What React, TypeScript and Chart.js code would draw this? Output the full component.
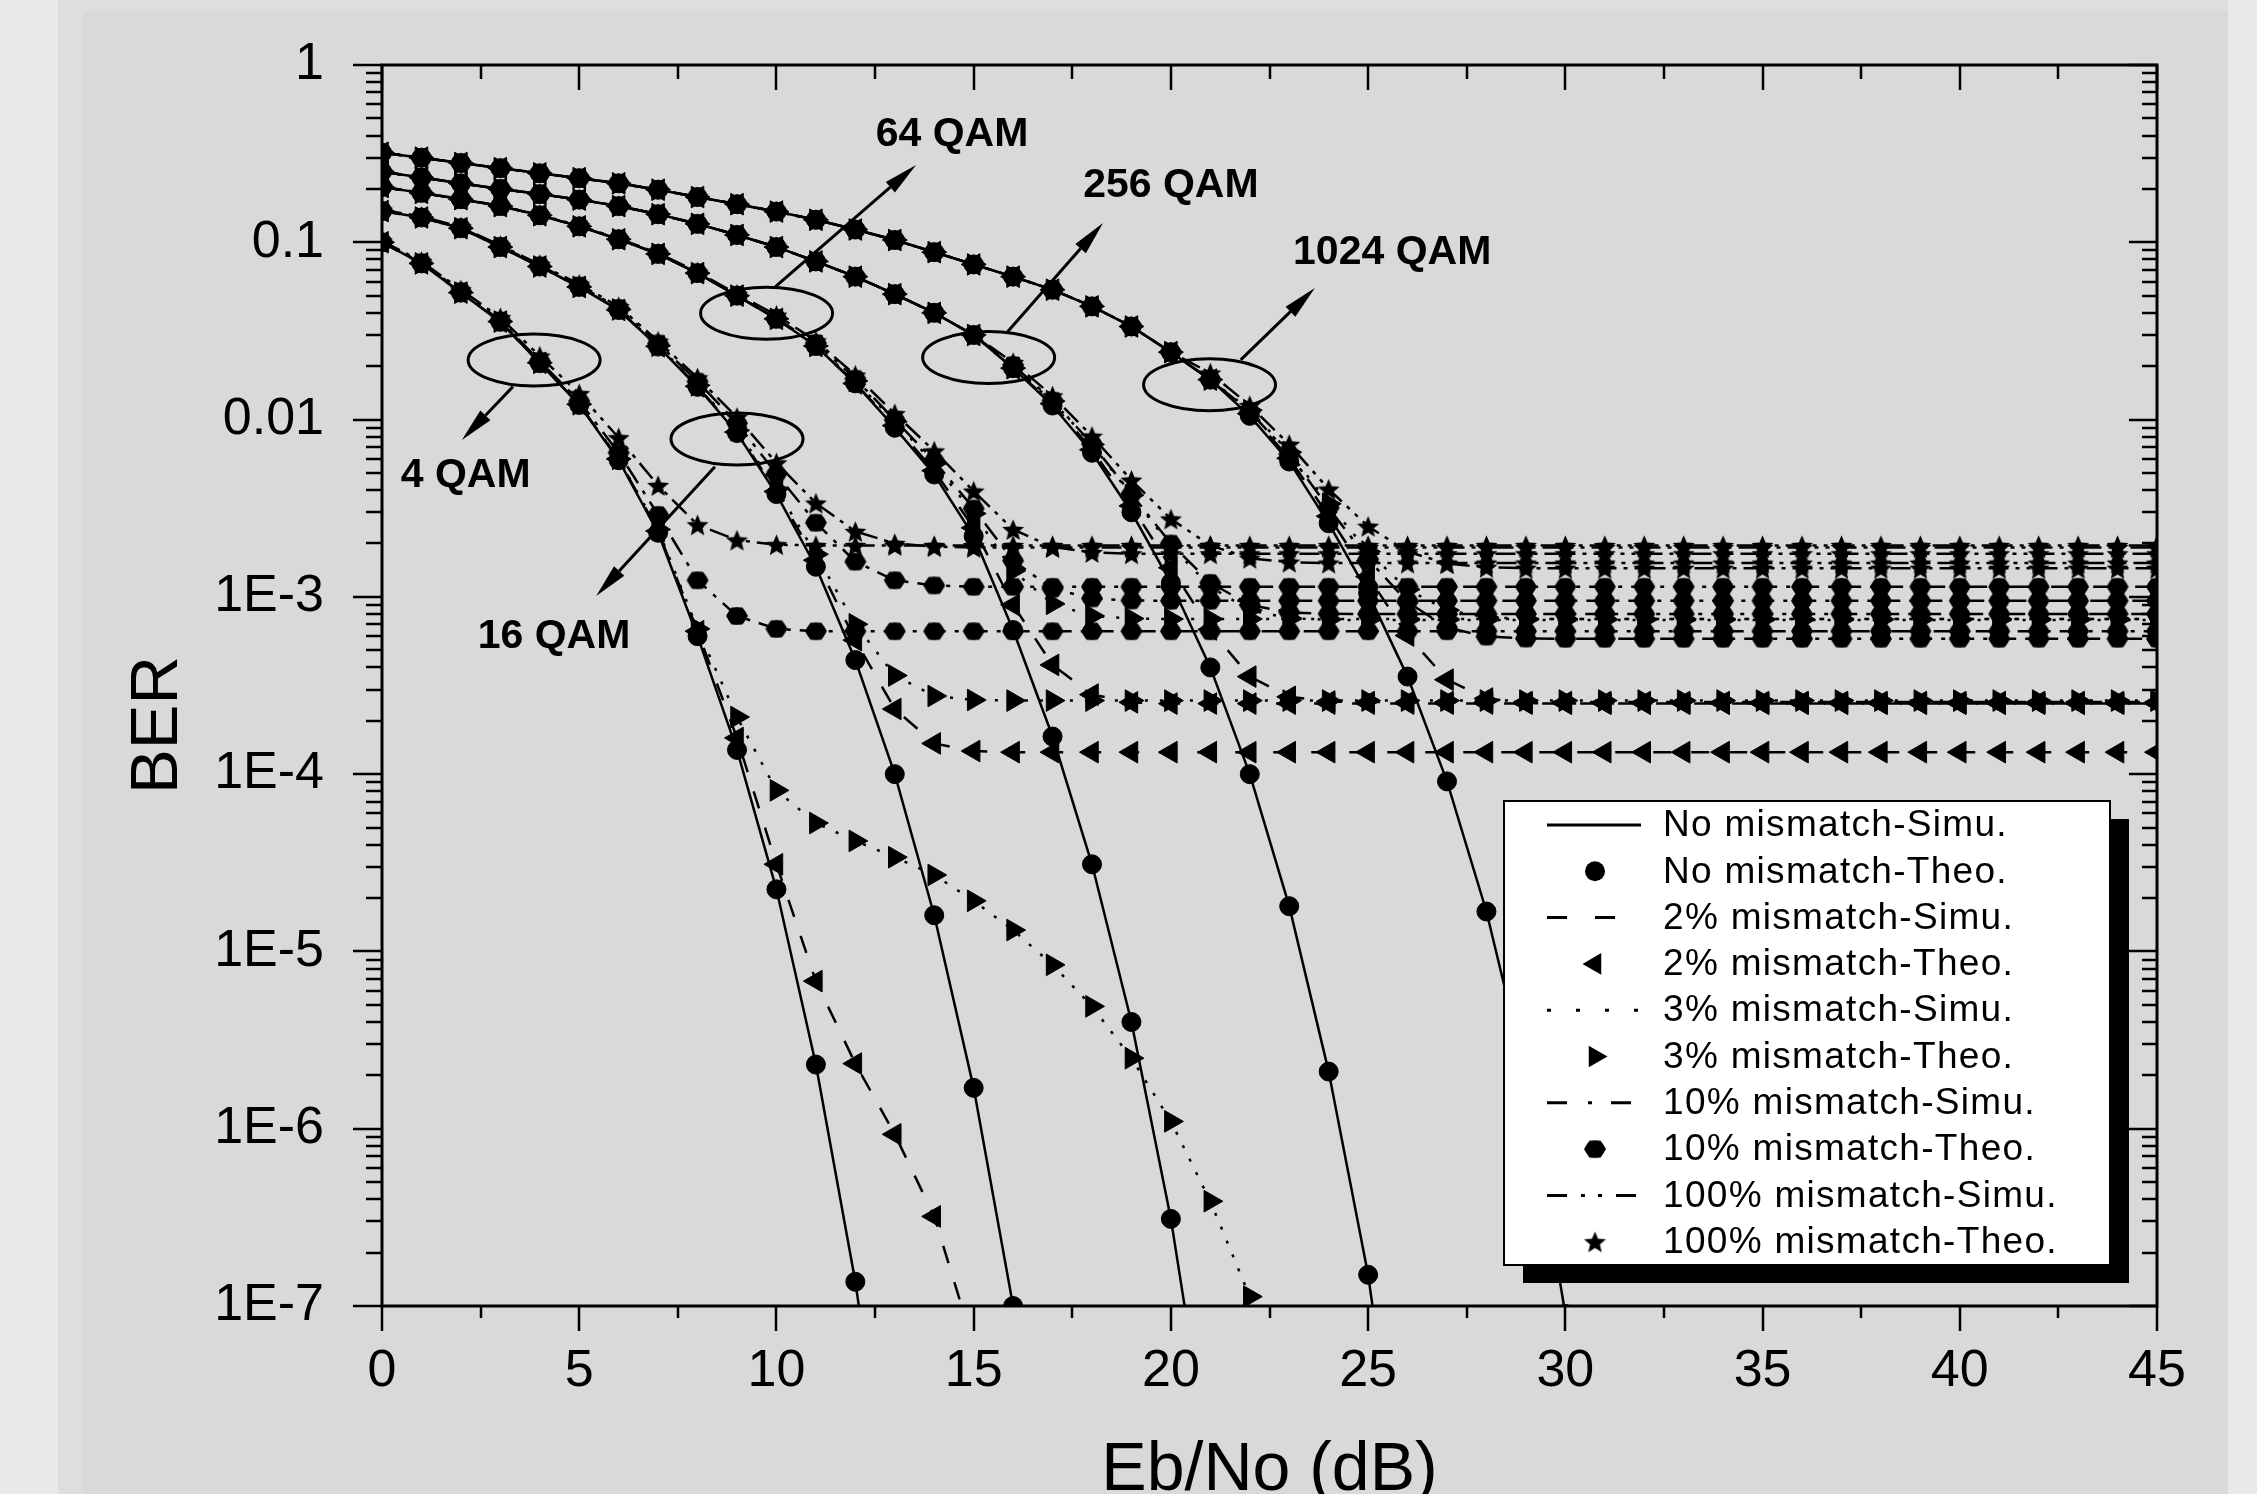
import React, { useEffect, useRef } from 'react';
import { Chart, registerables } from 'chart.js';

Chart.register(...registerables);

// ---------------- data ----------------
const EBNO = [0, 1, 2, 3, 4, 5, 6, 7, 8, 9, 10, 11, 12, 13, 14, 15, 16, 17, 18, 19, 20, 21, 22, 23, 24, 25, 26, 27, 28, 29, 30, 31, 32, 33, 34, 35, 36, 37, 38, 39, 40, 41, 42, 43, 44, 45];

const X_TICK_VALUES = [0, 5, 10, 15, 20, 25, 30, 35, 40, 45];
const X_TICK_LABELS = ['0', '5', '10', '15', '20', '25', '30', '35', '40', '45'];
const Y_TICK_VALUES = [1e-7, 1e-6, 1e-5, 1e-4, 1e-3, 0.01, 0.1, 1];
const Y_TICK_LABELS = ['1E-7', '1E-6', '1E-5', '1E-4', '1E-3', '0.01', '0.1', '1'];

const X_TITLE = 'Eb/No (dB)';
const Y_TITLE = 'BER';

const LEGEND_LABELS = [
  'No mismatch-Simu.', 'No mismatch-Theo.',
  '2% mismatch-Simu.', '2% mismatch-Theo.',
  '3% mismatch-Simu.', '3% mismatch-Theo.',
  '10% mismatch-Simu.', '10% mismatch-Theo.',
  '100% mismatch-Simu.', '100% mismatch-Theo.',
];

// 4 QAM
const BER_4QAM_NONE = [0.1, 0.076, 0.052, 0.0356, 0.0208, 0.0121, 0.0059, 0.0023, 0.0006, 0.000137, 2.24e-5, 2.3e-6, 1.37e-7, 4e-9];
const BER_4QAM_2 = [0.1, 0.076, 0.052, 0.0357, 0.0209, 0.0122, 0.006, 0.00235, 0.00064, 0.00016, 3.1e-5, 6.8e-6, 2.33e-6, 9.3e-7, 3.2e-7, 6e-8];
const BER_4QAM_3 = [0.1, 0.076, 0.052, 0.0357, 0.0209, 0.0122, 0.006, 0.0024, 0.00066, 0.00021, 8.1e-5, 5.3e-5, 4.2e-5, 3.4e-5, 2.7e-5, 1.93e-5, 1.32e-5, 8.4e-6, 4.9e-6, 2.5e-6, 1.1e-6, 3.9e-7, 1.13e-7, 2.5e-8];
const BER_4QAM_10 = [0.1, 0.077, 0.053, 0.0362, 0.0214, 0.0127, 0.0065, 0.0029, 0.00124, 0.00078, 0.00066,
  0.00064, 0.00064, 0.00064, 0.00064, 0.00064, 0.00064, 0.00064, 0.00064, 0.00064, 0.00064,
  0.00064, 0.00064, 0.00064, 0.00064, 0.00064, 0.00064, 0.00064, 0.00064, 0.00064, 0.00064,
  0.00064, 0.00064, 0.00064, 0.00064, 0.00064, 0.00064, 0.00064, 0.00064, 0.00064, 0.00064,
  0.00064, 0.00064, 0.00064, 0.00064, 0.00064];
const BER_4QAM_100 = [0.102, 0.078, 0.054, 0.0376, 0.0228, 0.014, 0.0079, 0.00425, 0.00255, 0.00209, 0.00197,
  0.00195, 0.00195, 0.00195, 0.00195, 0.00195, 0.00195, 0.00195, 0.00195, 0.00195, 0.00195,
  0.00195, 0.00195, 0.00195, 0.00195, 0.00195, 0.00195, 0.00195, 0.00195, 0.00195, 0.00195,
  0.00195, 0.00195, 0.00195, 0.00195, 0.00195, 0.00195, 0.00195, 0.00195, 0.00195, 0.00195,
  0.00195, 0.00195, 0.00195, 0.00195, 0.00195];

// 16 QAM
const BER_16QAM_NONE = [0.15, 0.138, 0.12, 0.094, 0.073, 0.056, 0.0415, 0.0258, 0.0153, 0.0084, 0.0038, 0.00148, 0.00044, 0.0001, 1.6e-5, 1.7e-6, 1.0e-7, 3e-9];
const BER_16QAM_2 = [0.15, 0.138, 0.12, 0.094, 0.073, 0.056, 0.0415, 0.0259, 0.0154, 0.0085, 0.00393, 0.00161, 0.00057, 0.000233, 0.000149, 0.000135,
  0.000133, 0.000133, 0.000133, 0.000133, 0.000133, 0.000133, 0.000133, 0.000133, 0.000133, 0.000133,
  0.000133, 0.000133, 0.000133, 0.000133, 0.000133, 0.000133, 0.000133, 0.000133, 0.000133, 0.000133,
  0.000133, 0.000133, 0.000133, 0.000133, 0.000133, 0.000133, 0.000133, 0.000133, 0.000133, 0.000133];
const BER_16QAM_3 = [0.15, 0.138, 0.12, 0.094, 0.073, 0.056, 0.0418, 0.0261, 0.0156, 0.0087, 0.00406, 0.00174, 0.0007, 0.00036, 0.000276, 0.000262,
  0.00026, 0.00026, 0.00026, 0.00026, 0.00026, 0.00026, 0.00026, 0.00026, 0.00026, 0.00026,
  0.00026, 0.00026, 0.00026, 0.00026, 0.00026, 0.00026, 0.00026, 0.00026, 0.00026, 0.00026,
  0.00026, 0.00026, 0.00026, 0.00026, 0.00026, 0.00026, 0.00026, 0.00026, 0.00026, 0.00026];
const BER_16QAM_10 = [0.151, 0.139, 0.121, 0.095, 0.074, 0.057, 0.0426, 0.0269, 0.0164, 0.00954, 0.00494, 0.00262, 0.00158, 0.00124, 0.00116,
  0.00114, 0.00114, 0.00114, 0.00114, 0.00114, 0.00114, 0.00114, 0.00114, 0.00114, 0.00114, 0.00114,
  0.00114, 0.00114, 0.00114, 0.00114, 0.00114, 0.00114, 0.00114, 0.00114, 0.00114, 0.00114,
  0.00114, 0.00114, 0.00114, 0.00114, 0.00114, 0.00114, 0.00114, 0.00114, 0.00114, 0.00114];
const BER_16QAM_100 = [0.152, 0.14, 0.122, 0.096, 0.075, 0.058, 0.0434, 0.0277, 0.0172, 0.0103, 0.0057, 0.00338, 0.00234, 0.002, 0.00192,
  0.0019, 0.0019, 0.0019, 0.0019, 0.0019, 0.0019, 0.0019, 0.0019, 0.0019, 0.0019, 0.0019,
  0.0019, 0.0019, 0.0019, 0.0019, 0.0019, 0.0019, 0.0019, 0.0019, 0.0019, 0.0019,
  0.0019, 0.0019, 0.0019, 0.0019, 0.0019, 0.0019, 0.0019, 0.0019, 0.0019, 0.0019];

// 64 QAM
const BER_64QAM_NONE = [0.205, 0.19, 0.175, 0.16, 0.142, 0.123, 0.104, 0.086, 0.067, 0.05, 0.037, 0.026, 0.016, 0.009, 0.0049, 0.0022, 0.00065, 0.000163, 3.1e-5, 4.0e-6, 3.1e-7, 1.2e-8];
const BER_64QAM_2 = [0.205, 0.19, 0.175, 0.16, 0.142, 0.123, 0.104, 0.086, 0.067, 0.05, 0.037, 0.026, 0.016, 0.00925, 0.00515, 0.00245, 0.0009, 0.000413, 0.000281, 0.000254,
  0.00025, 0.00025, 0.00025, 0.00025, 0.00025, 0.00025, 0.00025, 0.00025, 0.00025, 0.00025,
  0.00025, 0.00025, 0.00025, 0.00025, 0.00025, 0.00025, 0.00025, 0.00025, 0.00025, 0.00025,
  0.00025, 0.00025, 0.00025, 0.00025, 0.00025, 0.00025];
const BER_64QAM_3 = [0.205, 0.19, 0.175, 0.16, 0.142, 0.123, 0.104, 0.086, 0.067, 0.05, 0.037, 0.026, 0.0165, 0.00975, 0.00565, 0.00295, 0.0014, 0.000913, 0.000781, 0.000754,
  0.00075, 0.00075, 0.00075, 0.00075, 0.00075, 0.00075, 0.00075, 0.00075, 0.00075, 0.00075,
  0.00075, 0.00075, 0.00075, 0.00075, 0.00075, 0.00075, 0.00075, 0.00075, 0.00075, 0.00075,
  0.00075, 0.00075, 0.00075, 0.00075, 0.00075, 0.00075];
const BER_64QAM_10 = [0.205, 0.19, 0.175, 0.16, 0.142, 0.123, 0.104, 0.086, 0.067, 0.05, 0.037, 0.027, 0.017, 0.00995, 0.00585, 0.00315, 0.0016, 0.00111, 0.00098, 0.000954,
  0.00095, 0.00095, 0.00095, 0.00095, 0.00095, 0.00095, 0.00095, 0.00095, 0.00095, 0.00095,
  0.00095, 0.00095, 0.00095, 0.00095, 0.00095, 0.00095, 0.00095, 0.00095, 0.00095, 0.00095,
  0.00095, 0.00095, 0.00095, 0.00095, 0.00095, 0.00095];
const BER_64QAM_100 = [0.206, 0.19, 0.176, 0.16, 0.143, 0.124, 0.105, 0.087, 0.068, 0.051, 0.0388, 0.0278, 0.0178, 0.0108, 0.00665, 0.00395, 0.0024, 0.00191, 0.00178,
  0.00175, 0.00175, 0.00175, 0.00175, 0.00175, 0.00175, 0.00175, 0.00175, 0.00175, 0.00175,
  0.00175, 0.00175, 0.00175, 0.00175, 0.00175, 0.00175, 0.00175, 0.00175, 0.00175, 0.00175,
  0.00175, 0.00175, 0.00175, 0.00175, 0.00175, 0.00175, 0.00175];

// 256 QAM
const BER_256QAM_NONE = [0.25, 0.232, 0.215, 0.2, 0.187, 0.174, 0.16, 0.144, 0.127, 0.11, 0.094, 0.078, 0.064, 0.051, 0.04, 0.03, 0.0195, 0.012, 0.0065, 0.003, 0.0012, 0.0004, 0.0001, 1.8e-5, 2.1e-6, 1.5e-7, 4e-9];
const BER_256QAM_2 = [0.25, 0.232, 0.215, 0.2, 0.187, 0.174, 0.16, 0.144, 0.127, 0.11, 0.094, 0.078, 0.064, 0.051, 0.04, 0.03, 0.0195, 0.0123, 0.00676, 0.00326, 0.00146, 0.000655, 0.000355, 0.000273, 0.000257,
  0.000255, 0.000255, 0.000255, 0.000255, 0.000255, 0.000255, 0.000255, 0.000255, 0.000255, 0.000255,
  0.000255, 0.000255, 0.000255, 0.000255, 0.000255, 0.000255, 0.000255, 0.000255, 0.000255, 0.000255, 0.000255];
const BER_256QAM_3 = [0.25, 0.232, 0.215, 0.2, 0.187, 0.174, 0.16, 0.144, 0.127, 0.11, 0.094, 0.078, 0.064, 0.051, 0.04, 0.03, 0.0195, 0.0127, 0.00724, 0.00374, 0.00194, 0.00114, 0.00084, 0.000758, 0.000742,
  0.00074, 0.00074, 0.00074, 0.00074, 0.00074, 0.00074, 0.00074, 0.00074, 0.00074, 0.00074,
  0.00074, 0.00074, 0.00074, 0.00074, 0.00074, 0.00074, 0.00074, 0.00074, 0.00074, 0.00074, 0.00074];
const BER_256QAM_10 = [0.25, 0.232, 0.215, 0.2, 0.187, 0.174, 0.16, 0.144, 0.127, 0.11, 0.094, 0.078, 0.064, 0.051, 0.04, 0.03, 0.0203, 0.0128, 0.0073, 0.0038, 0.002, 0.0012, 0.0009, 0.000818, 0.000802,
  0.0008, 0.0008, 0.0008, 0.0008, 0.0008, 0.0008, 0.0008, 0.0008, 0.0008, 0.0008,
  0.0008, 0.0008, 0.0008, 0.0008, 0.0008, 0.0008, 0.0008, 0.0008, 0.0008, 0.0008, 0.0008];
const BER_256QAM_100 = [0.25, 0.232, 0.215, 0.2, 0.187, 0.174, 0.16, 0.144, 0.127, 0.11, 0.094, 0.078, 0.064, 0.051, 0.04, 0.03, 0.021, 0.0136, 0.00805, 0.00455, 0.00275, 0.00195, 0.00165, 0.00157,
  0.00155, 0.00155, 0.00155, 0.00155, 0.00155, 0.00155, 0.00155, 0.00155, 0.00155, 0.00155, 0.00155,
  0.00155, 0.00155, 0.00155, 0.00155, 0.00155, 0.00155, 0.00155, 0.00155, 0.00155, 0.00155, 0.00155];

// 1024 QAM
const BER_1024QAM_NONE = [0.32, 0.3, 0.28, 0.262, 0.245, 0.23, 0.215, 0.198, 0.18, 0.164, 0.149, 0.134, 0.118, 0.103, 0.088, 0.075, 0.064, 0.054, 0.0435, 0.0335, 0.024, 0.0168, 0.0105, 0.0058, 0.0026, 0.00105, 0.000355, 9.1e-5, 1.68e-5, 2.0e-6, 9e-8, 1e-9];
const BER_1024QAM_2 = [0.32, 0.3, 0.28, 0.262, 0.245, 0.23, 0.215, 0.198, 0.18, 0.164, 0.149, 0.134, 0.118, 0.103, 0.088, 0.075, 0.064, 0.054, 0.0435, 0.0335, 0.024, 0.0168, 0.0108, 0.00605, 0.00285, 0.0013, 0.000605, 0.000341, 0.000267, 0.000252,
  0.00025, 0.00025, 0.00025, 0.00025, 0.00025, 0.00025, 0.00025, 0.00025,
  0.00025, 0.00025, 0.00025, 0.00025, 0.00025, 0.00025, 0.00025, 0.00025];
const BER_1024QAM_3 = [0.32, 0.3, 0.28, 0.262, 0.245, 0.23, 0.215, 0.198, 0.18, 0.164, 0.149, 0.134, 0.118, 0.103, 0.088, 0.075, 0.064, 0.054, 0.0435, 0.0335, 0.024, 0.0168, 0.0113, 0.00655, 0.00335, 0.0018, 0.0011, 0.000841, 0.000767, 0.000752,
  0.00075, 0.00075, 0.00075, 0.00075, 0.00075, 0.00075, 0.00075, 0.00075,
  0.00075, 0.00075, 0.00075, 0.00075, 0.00075, 0.00075, 0.00075, 0.00075];
const BER_1024QAM_10 = [0.32, 0.3, 0.28, 0.262, 0.245, 0.23, 0.215, 0.198, 0.18, 0.164, 0.149, 0.134, 0.118, 0.103, 0.088, 0.075, 0.064, 0.054, 0.0435, 0.0335, 0.024, 0.0168, 0.0111, 0.00638, 0.00318, 0.00163, 0.000935, 0.000671, 0.000597, 0.000582,
  0.00058, 0.00058, 0.00058, 0.00058, 0.00058, 0.00058, 0.00058, 0.00058,
  0.00058, 0.00058, 0.00058, 0.00058, 0.00058, 0.00058, 0.00058, 0.00058];
const BER_1024QAM_100 = [0.32, 0.3, 0.28, 0.262, 0.245, 0.23, 0.215, 0.198, 0.18, 0.164, 0.149, 0.134, 0.118, 0.103, 0.088, 0.075, 0.064, 0.054, 0.0435, 0.0335, 0.024, 0.0183, 0.012, 0.00725, 0.00405, 0.0025, 0.0018, 0.00154, 0.00147,
  0.00145, 0.00145, 0.00145, 0.00145, 0.00145, 0.00145, 0.00145, 0.00145, 0.00145,
  0.00145, 0.00145, 0.00145, 0.00145, 0.00145, 0.00145, 0.00145, 0.00145, 0.00145];

// series: [mismatch level index, values]
const SERIES_LEVEL = [0, 0, 0, 0, 0, 1, 1, 1, 1, 1, 2, 2, 2, 2, 2, 3, 3, 3, 3, 3, 4, 4, 4, 4, 4];
const SERIES_VALUES = [
  BER_4QAM_NONE, BER_16QAM_NONE, BER_64QAM_NONE, BER_256QAM_NONE, BER_1024QAM_NONE,
  BER_4QAM_2, BER_16QAM_2, BER_64QAM_2, BER_256QAM_2, BER_1024QAM_2,
  BER_4QAM_3, BER_16QAM_3, BER_64QAM_3, BER_256QAM_3, BER_1024QAM_3,
  BER_4QAM_10, BER_16QAM_10, BER_64QAM_10, BER_256QAM_10, BER_1024QAM_10,
  BER_4QAM_100, BER_16QAM_100, BER_64QAM_100, BER_256QAM_100, BER_1024QAM_100,
];

// annotations (data coordinates)
const ANNOT_TEXT = ['4 QAM', '16 QAM', '64 QAM', '256 QAM', '1024 QAM'];
const ANNOT_TEXT_X = [2.12, 4.36, 14.45, 20.0, 25.61];
const ANNOT_TEXT_Y = [0.0048, 0.000594, 0.403, 0.208, 0.0871];
const ELLIPSE_X = [3.857, 9.0, 9.75, 15.38, 20.98];
const ELLIPSE_Y = [0.0217, 0.00778, 0.0398, 0.0224, 0.0157];
const ARROW_FROM_X = [3.32, 8.44, 9.975, 15.86, 21.77];
const ARROW_FROM_Y = [0.01534, 0.00542, 0.0562, 0.0313, 0.0217];
const ARROW_TO_X = [2.025, 5.43, 13.54, 18.28, 23.65];
const ARROW_TO_Y = [0.00767, 0.00101, 0.273, 0.1285, 0.0552];

// ---------------- styles ----------------
const FONT = '"Liberation Sans", Arial, Helvetica, sans-serif';
const PLOT_DASH = [[], [18, 20], [3, 12], [20, 9, 4, 9], [20, 7, 4, 7, 4, 7]];
const LEGEND_DASH = [[], [20, 28], [4, 25], [20, 21, 4, 19], [20, 14, 4, 13, 4, 14]];

function makeStar(R: number) {
  const c = document.createElement('canvas');
  const s = Math.ceil(R * 2 + 2);
  c.width = s; c.height = s;
  const g = c.getContext('2d')!;
  const cx = s / 2, cy = s / 2 + R * 0.1;
  g.beginPath();
  for (let i = 0; i < 10; i++) {
    const r = i % 2 === 0 ? R : R * 0.45;
    const a = -Math.PI / 2 + (i * Math.PI) / 5;
    const px = cx + r * Math.cos(a), py = cy + r * Math.sin(a);
    if (i === 0) g.moveTo(px, py); else g.lineTo(px, py);
  }
  g.closePath();
  g.fillStyle = '#000';
  g.fill();
  return c;
}

function makeHex(R: number) {
  const c = document.createElement('canvas');
  const w = Math.ceil(R * 2 + 2), h = Math.ceil(R * 1.8 + 2);
  c.width = w; c.height = h;
  const g = c.getContext('2d')!;
  g.beginPath();
  for (let i = 0; i < 6; i++) {
    const a = (i * Math.PI) / 3;
    const px = w / 2 + R * Math.cos(a), py = h / 2 + R * 0.9 * Math.sin(a);
    if (i === 0) g.moveTo(px, py); else g.lineTo(px, py);
  }
  g.closePath();
  g.fillStyle = '#000';
  g.fill();
  g.beginPath();
  g.ellipse(w / 2, h / 2, R * 0.88, R * 0.8, 0, 0, Math.PI * 2);
  g.fill();
  return c;
}

function isDecade(v: number) {
  const l = Math.log10(v);
  return Math.abs(l - Math.round(l)) < 1e-6;
}

function drawTriangle(ctx: CanvasRenderingContext2D, x: number, y: number, r: number, rotDeg: number) {
  let rad = (rotDeg * Math.PI) / 180;
  ctx.beginPath();
  for (let i = 0; i < 3; i++) {
    const px = x + Math.sin(rad) * r, py = y - Math.cos(rad) * r;
    if (i === 0) ctx.moveTo(px, py); else ctx.lineTo(px, py);
    rad += (2 * Math.PI) / 3;
  }
  ctx.closePath();
  ctx.fill();
}

export default function App() {
  const ref = useRef<HTMLCanvasElement>(null);

  useEffect(() => {
    const canvas = ref.current!;
    const star = makeStar(11.5);
    const hex = makeHex(11);

    const pointStyles: any[] = ['circle', 'triangle', 'triangle', hex, star];
    const pointRot = [0, 270, 90, 0, 0];
    const pointRad = [9.5, 12.5, 12.5, 11, 11.5];

    const datasets = SERIES_VALUES.map((vals, i) => {
      const lv = SERIES_LEVEL[i];
      return {
        label: LEGEND_LABELS[lv * 2],
        data: vals.map((y, k) => ({ x: EBNO[k], y })),
        borderColor: '#000',
        backgroundColor: '#000',
        borderWidth: 2.5,
        borderDash: PLOT_DASH[lv],
        pointStyle: pointStyles[lv],
        rotation: pointRot[lv],
        pointRadius: pointRad[lv],
        pointBorderWidth: 1,
        pointBackgroundColor: '#000',
        pointBorderColor: '#000',
        tension: 0,
        fill: false,
      };
    });

    const Y_ALL: number[] = [];
    for (let e = -7; e <= 0; e++) {
      for (let m = 1; m <= 9; m++) {
        const v = Number((m * Math.pow(10, e)).toPrecision(6));
        if (v <= 1) Y_ALL.push(v);
        if (e === 0) break;
      }
    }

    const decor = {
      id: 'decor',
      afterDatasetsDraw(chart: any) {
        const { ctx, chartArea: a, scales } = chart;
        const xs = scales.x, ys = scales.y;
        ctx.save();
        ctx.setLineDash([]);
        ctx.strokeStyle = '#000';
        ctx.fillStyle = '#000';

        // frame
        ctx.lineWidth = 3;
        ctx.strokeRect(a.left, a.top, a.right - a.left, a.bottom - a.top);

        // ticks
        ctx.lineWidth = 2.5;
        ctx.beginPath();
        for (const t of xs.ticks) {
          const px = Math.round(xs.getPixelForValue(t.value));
          const major = Math.abs(t.value / 5 - Math.round(t.value / 5)) < 1e-6;
          ctx.moveTo(px, a.bottom); ctx.lineTo(px, a.bottom + (major ? 25 : 12));
          ctx.moveTo(px, a.top); ctx.lineTo(px, a.top + (major ? 25 : 14));
        }
        for (const t of ys.ticks) {
          const py = Math.round(ys.getPixelForValue(t.value));
          const major = isDecade(t.value);
          ctx.moveTo(a.left, py); ctx.lineTo(a.left - (major ? 29 : 16), py);
          ctx.moveTo(a.right, py); ctx.lineTo(a.right - (major ? 28 : 15), py);
        }
        ctx.stroke();

        // annotations
        ctx.lineWidth = 3;
        for (let i = 0; i < ELLIPSE_X.length; i++) {
          const ex = xs.getPixelForValue(ELLIPSE_X[i]);
          const ey = ys.getPixelForValue(ELLIPSE_Y[i]);
          ctx.beginPath();
          ctx.ellipse(ex, ey, 66, 26, 0, 0, Math.PI * 2);
          ctx.stroke();

          const x0 = xs.getPixelForValue(ARROW_FROM_X[i]);
          const y0 = ys.getPixelForValue(ARROW_FROM_Y[i]);
          const x1 = xs.getPixelForValue(ARROW_TO_X[i]);
          const y1 = ys.getPixelForValue(ARROW_TO_Y[i]);
          const ang = Math.atan2(y1 - y0, x1 - x0);
          const hl = 34, hw = 7;
          const bx = x1 - Math.cos(ang) * hl, by = y1 - Math.sin(ang) * hl;
          ctx.beginPath();
          ctx.moveTo(x0, y0); ctx.lineTo(bx, by);
          ctx.stroke();
          ctx.beginPath();
          ctx.moveTo(x1, y1);
          ctx.lineTo(bx + Math.sin(ang) * hw, by - Math.cos(ang) * hw);
          ctx.lineTo(bx - Math.sin(ang) * hw, by + Math.cos(ang) * hw);
          ctx.closePath();
          ctx.fill();

          ctx.font = `bold 41px ${FONT}`;
          ctx.textAlign = 'center';
          ctx.textBaseline = 'middle';
          ctx.fillText(ANNOT_TEXT[i], xs.getPixelForValue(ANNOT_TEXT_X[i]), ys.getPixelForValue(ANNOT_TEXT_Y[i]));
        }

        // axis titles
        ctx.textAlign = 'center';
        ctx.textBaseline = 'alphabetic';
        ctx.font = `68px ${FONT}`;
        ctx.fillText(X_TITLE, (a.left + a.right) / 2, 1490);
        ctx.save();
        ctx.font = `67px ${FONT}`;
        ctx.translate(177, 725);
        ctx.rotate(-Math.PI / 2);
        ctx.fillText(Y_TITLE, 0, 0);
        ctx.restore();

        // legend
        const L = { x: 1504, y: 801, w: 606, h: 464 };
        ctx.fillStyle = '#000';
        ctx.fillRect(L.x + 19, L.y + 18, L.w, L.h);
        ctx.fillStyle = '#fff';
        ctx.fillRect(L.x, L.y, L.w, L.h);
        ctx.lineWidth = 2;
        ctx.strokeStyle = '#000';
        ctx.strokeRect(L.x, L.y, L.w, L.h);
        ctx.fillStyle = '#000';
        for (let i = 0; i < LEGEND_LABELS.length; i++) {
          const cy = 825 + i * 46.3;
          const lv = Math.floor(i / 2);
          if (i % 2 === 0) {
            ctx.lineWidth = 3;
            ctx.setLineDash(LEGEND_DASH[lv]);
            ctx.beginPath();
            ctx.moveTo(1547, cy); ctx.lineTo(1641, cy);
            ctx.stroke();
            ctx.setLineDash([]);
          } else {
            const mx = 1595;
            if (lv === 0) { ctx.beginPath(); ctx.arc(mx, cy, 10, 0, Math.PI * 2); ctx.fill(); }
            else if (lv === 1) drawTriangle(ctx, mx, cy, 12.5, 270);
            else if (lv === 2) drawTriangle(ctx, mx, cy, 12.5, 90);
            else if (lv === 3) ctx.drawImage(hex, mx - hex.width / 2, cy - hex.height / 2);
            else ctx.drawImage(star, mx - star.width / 2, cy - star.height / 2);
          }
          ctx.font = `37px ${FONT}`;
          ctx.textAlign = 'left';
          ctx.textBaseline = 'middle';
          try { (ctx as any).letterSpacing = '1.3px'; } catch (e) { /* ignore */ }
          ctx.fillText(LEGEND_LABELS[i], 1663, cy + 1);
          try { (ctx as any).letterSpacing = '0px'; } catch (e) { /* ignore */ }
        }
        ctx.restore();
      },
    };

    const chart = new Chart(canvas, {
      type: 'line',
      data: { datasets: datasets as any },
      options: {
        responsive: false,
        maintainAspectRatio: false,
        animation: false,
        devicePixelRatio: 1,
        events: [],
        layout: { padding: { left: 0, top: 65, right: 100, bottom: 0 } },
        plugins: { legend: { display: false }, tooltip: { enabled: false } },
        scales: {
          x: {
            type: 'linear',
            position: 'bottom',
            min: 0,
            max: 45,
            grid: { display: false },
            border: { display: false },
            ticks: {
              stepSize: 2.5,
              autoSkip: false,
              maxRotation: 0,
              padding: 26,
              color: '#000',
              font: { family: FONT, size: 52 },
              callback: (v: any) => {
                const idx = X_TICK_VALUES.findIndex((t) => Math.abs(t - Number(v)) < 1e-9);
                return idx >= 0 ? X_TICK_LABELS[idx] : '';
              },
            },
            afterFit: (s: any) => { s.height = 188; s.paddingLeft = 0; s.paddingRight = 0; },
          },
          y: {
            type: 'logarithmic',
            position: 'left',
            min: 1e-7,
            max: 1,
            grid: { display: false },
            border: { display: false },
            afterBuildTicks: (s: any) => { s.ticks = Y_ALL.map((v) => ({ value: v })); },
            ticks: {
              autoSkip: false,
              padding: 50,
              color: '#000',
              font: { family: FONT, size: 52 },
              callback: (v: any) => {
                const idx = Y_TICK_VALUES.findIndex((t) => Math.abs(Math.log10(t) - Math.log10(Number(v))) < 1e-6);
                return idx >= 0 ? Y_TICK_LABELS[idx] : '';
              },
            },
            afterFit: (s: any) => { s.width = 382; s.paddingTop = 0; s.paddingBottom = 0; },
          },
        },
      } as any,
      plugins: [decor],
    });

    return () => chart.destroy();
  }, []);

  return (
    <div style={{ position: 'absolute', left: 0, top: 0, width: 2257, height: 1494, background: '#e9e9e9', overflow: 'hidden' }}>
      <div style={{ position: 'absolute', left: 58, top: 0, width: 2170, height: 1494, background: '#dedede' }} />
      <div style={{ position: 'absolute', left: 83, top: 11, width: 2145, height: 1483, background: '#d9d9d9' }} />
      <canvas ref={ref} width={2257} height={1494} style={{ position: 'absolute', left: 0, top: 0, width: 2257, height: 1494 }} />
    </div>
  );
}
